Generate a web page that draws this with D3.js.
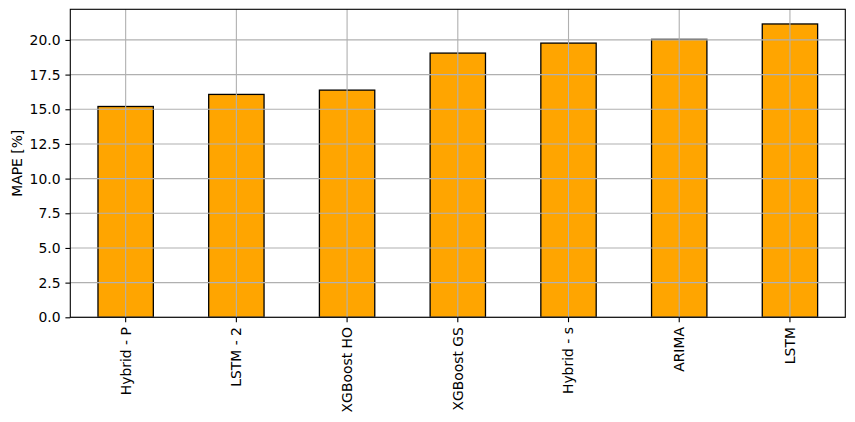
<!DOCTYPE html>
<html><head><meta charset="utf-8">
<script src="https://cdn.jsdelivr.net/npm/d3@7"></script>
<style>body{margin:0;background:#fff}svg{display:block}text{font-family:"DejaVu Sans",sans-serif}</style>
</head><body>
<svg id="chart" width="855" height="422"></svg>
<script>
const categories = ["Hybrid - P","LSTM - 2","XGBoost HO","XGBoost GS","Hybrid - s","ARIMA","LSTM"];
const mapeValues = [15.2, 16.07, 16.38, 19.05, 19.77, 20.04, 21.15];
const yTicks = [0,2.5,5,7.5,10,12.5,15,17.5,20];
const yLabel = "MAPE [%]";

const svg = d3.select("#chart");
const m = {l:70.3, r:845.3, t:9.3, b:317.3};
const fs = 13.9;
const x = d3.scaleBand().domain(categories).range([m.l, m.r]).paddingInner(0.5).paddingOuter(0.25);
const y = d3.scaleLinear().domain([0, d3.max(mapeValues)*1.05]).range([m.b, m.t]);

// bars
svg.append("g").selectAll("rect").data(categories).join("rect")
  .attr("x", d=>x(d)).attr("width", x.bandwidth())
  .attr("y", (d,i)=>y(mapeValues[i])).attr("height", (d,i)=>m.b-y(mapeValues[i]))
  .attr("fill","#FFA500").attr("stroke","#000").attr("stroke-width",1.3);

// grid
const g = svg.append("g").attr("stroke","#b0b0b0").attr("stroke-width",1.1);
g.selectAll(".h").data(yTicks).join("line")
  .attr("x1",m.l).attr("x2",m.r).attr("y1",d=>y(d)).attr("y2",d=>y(d));
g.selectAll(".v").data(categories).join("line")
  .attr("x1",d=>x(d)+x.bandwidth()/2).attr("x2",d=>x(d)+x.bandwidth()/2).attr("y1",m.t).attr("y2",m.b);

// axes
const ya = svg.append("g").attr("transform",`translate(${m.l},0)`)
  .call(d3.axisLeft(y).tickValues(yTicks).tickFormat(d3.format(".1f")).tickSize(4.9).tickPadding(4.9));
const xa = svg.append("g").attr("transform",`translate(0,${m.b})`)
  .call(d3.axisBottom(x).tickSize(4.9).tickPadding(4.9));
[ya,xa].forEach(a=>{a.select(".domain").remove();a.selectAll("line").attr("stroke","#000").attr("stroke-width",1.1);
  a.selectAll("text").attr("font-size",fs).attr("fill","#000").attr("font-family","DejaVu Sans");});
xa.selectAll("text").attr("transform","rotate(-90)").attr("text-anchor","end")
  .attr("x",-9.8).attr("y",0).attr("dy","0.35em");

svg.append("rect").attr("x",m.l).attr("y",m.t).attr("width",m.r-m.l).attr("height",m.b-m.t)
  .attr("fill","none").attr("stroke","#000").attr("stroke-width",1.1);

svg.append("text").attr("transform",`translate(21.5,${(m.t+m.b)/2}) rotate(-90)`)
  .attr("text-anchor","middle").attr("font-size",fs).text(yLabel);
</script>
</body></html>
